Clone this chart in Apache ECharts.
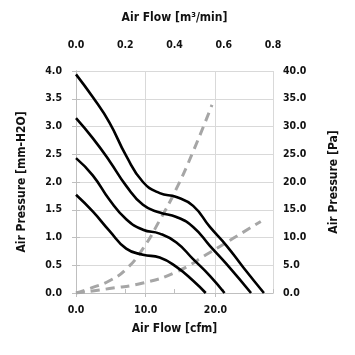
<!DOCTYPE html>
<html><head><meta charset="utf-8">
<script src="https://cdn.jsdelivr.net/npm/echarts@6/dist/echarts.min.js"></script>
<style>html,body{margin:0;padding:0;background:#fff}#c{width:355px;height:355px}</style>
</head><body><div id="c"></div>
<script>
// Fan curves: flow (cfm) vs static pressure (mm-H2O)
var curve1Flow = [0, 2.4, 4.8, 7.2, 9.6, 12.0, 14.4, 16.8, 19.2, 21.6, 24.0, 26.95];
var curve1Pres = [3.94, 3.53, 3.07, 2.47, 2.00, 1.80, 1.73, 1.57, 1.19, 0.85, 0.46, 0.0];
var curve2Flow = [0, 2.4, 4.8, 7.2, 9.6, 12.0, 14.4, 16.8, 19.2, 21.6, 25.1];
var curve2Pres = [3.15, 2.79, 2.38, 1.93, 1.59, 1.45, 1.37, 1.19, 0.85, 0.52, 0.0];
var curve3Flow = [0, 2.4, 4.8, 7.2, 9.6, 12.0, 14.4, 16.8, 19.2, 21.3];
var curve3Pres = [2.43, 2.12, 1.68, 1.33, 1.14, 1.07, 0.91, 0.61, 0.31, 0.0];
var curve4Flow = [0, 2.4, 4.8, 7.2, 9.6, 12.0, 14.4, 16.8, 18.6];
var curve4Pres = [1.77, 1.47, 1.12, 0.80, 0.69, 0.64, 0.47, 0.22, 0.0];
// System impedance curves: flow (cfm) vs pressure (Pa)
var imp1Flow = [0, 2.4, 4.8, 7.2, 9.6, 12.0, 14.4, 16.8, 19.5];
var imp1Pa = [0, 1.0, 2.2, 4.3, 8.0, 13.1, 18.8, 25.5, 33.9];
var imp2Flow = [0, 4.8, 9.6, 14.4, 19.2, 22.6, 26.5];
var imp2Pa = [0, 0.8, 1.8, 3.8, 7.3, 9.9, 12.9];

var xBottomTitle = 'Air Flow [cfm]';
var xTopTitle = 'Air Flow [m³/min]';
var yLeftTitle = 'Air Pressure [mm-H2O]';
var yRightTitle = 'Air Pressure [Pa]';

function zip(a, b) { return a.map(function (v, i) { return [v, b[i]]; }); }

var FONT = '"DejaVu Sans Condensed", "Liberation Sans Narrow", sans-serif';
var labelStyle = { color: '#111', fontFamily: FONT, fontWeight: 'bold', fontSize: 10.5 };
var nameStyle = { color: '#111', fontFamily: FONT, fontWeight: 'bold', fontSize: 12 };
var axisGray = '#bfbfbf';

var chart = echarts.init(document.getElementById('c'), null, { renderer: 'canvas' });
var black = function (flow, pres) {
  return { type: 'line', xAxisIndex: 0, yAxisIndex: 0, data: zip(flow, pres), smooth: 0.5, showSymbol: false,
    lineStyle: { color: '#000', width: 2.6 } };
};
var gray = function (flow, pa) {
  return { type: 'line', xAxisIndex: 0, yAxisIndex: 1, data: zip(flow, pa), smooth: 0.5, showSymbol: false,
    lineStyle: { color: '#a6a6a6', width: 3, type: [9, 6] } };
};
chart.setOption({
  animation: false,
  grid: { left: 76, right: 82, top: 71, bottom: 62 },
  xAxis: [
    { type: 'value', position: 'bottom', min: 0, max: 28.25, interval: 10,
      name: xBottomTitle, nameLocation: 'middle', nameGap: 30, nameTextStyle: nameStyle,
      axisLine: { show: true, lineStyle: { color: axisGray } },
      axisTick: { show: true, length: 4, lineStyle: { color: axisGray } },
      axisLabel: Object.assign({ margin: 12, formatter: function (v) { return v.toFixed(1); },
        showMaxLabel: false }, labelStyle),
      splitLine: { show: true, lineStyle: { color: '#d9d9d9' } } },
    { type: 'value', position: 'top', min: 0, max: 0.8, interval: 0.2, offset: 7,
      name: xTopTitle, nameLocation: 'middle', nameGap: 40, nameTextStyle: nameStyle,
      axisLine: { show: true, lineStyle: { color: axisGray } },
      axisTick: { show: true, length: 4, lineStyle: { color: axisGray } },
      axisLabel: Object.assign({ margin: 13, formatter: function (v) { return v.toFixed(1); } }, labelStyle),
      splitLine: { show: false } }
  ],
  yAxis: [
    { type: 'value', position: 'left', min: 0, max: 4, interval: 0.5,
      name: yLeftTitle, nameLocation: 'middle', nameGap: 48, nameRotate: 90, nameTextStyle: nameStyle,
      axisLine: { show: true, lineStyle: { color: axisGray } },
      axisTick: { show: true, length: 4, lineStyle: { color: axisGray } },
      axisLabel: Object.assign({ margin: 14, formatter: function (v) { return v.toFixed(1); } }, labelStyle),
      splitLine: { show: true, lineStyle: { color: '#d9d9d9' } } },
    { type: 'value', position: 'right', min: 0, max: 40, interval: 5,
      name: yRightTitle, nameLocation: 'middle', nameGap: 55, nameRotate: 90, nameTextStyle: nameStyle,
      axisLine: { show: true, lineStyle: { color: axisGray } },
      axisTick: { show: true, length: 4, lineStyle: { color: axisGray } },
      axisLabel: Object.assign({ margin: 10, formatter: function (v) { return v.toFixed(1); } }, labelStyle),
      splitLine: { show: false } }
  ],
  series: [
    gray(imp1Flow, imp1Pa), gray(imp2Flow, imp2Pa),
    black(curve1Flow, curve1Pres), black(curve2Flow, curve2Pres),
    black(curve3Flow, curve3Pres), black(curve4Flow, curve4Pres)
  ]
});
</script></body></html>
